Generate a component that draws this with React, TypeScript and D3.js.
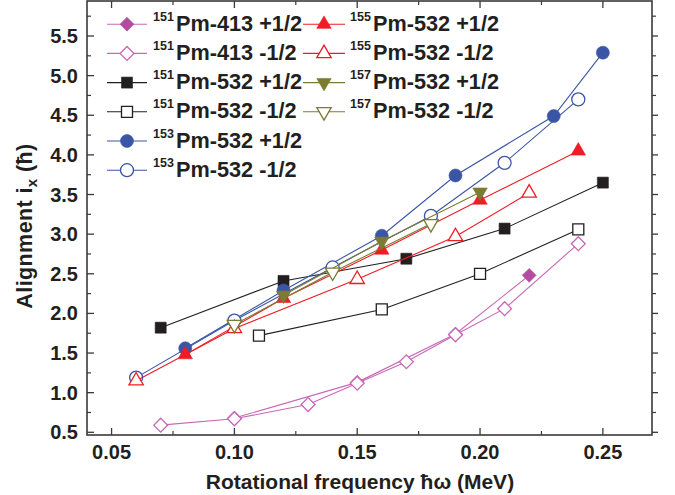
import React from "react";
import * as d3 from "d3";

// ---- Data ----
const pm151_413_pos_x = [0.10, 0.15, 0.19, 0.22];
const pm151_413_pos_y = [0.68, 1.13, 1.74, 2.48];
const pm151_413_neg_x = [0.07, 0.10, 0.13, 0.15, 0.17, 0.19, 0.21, 0.24];
const pm151_413_neg_y = [0.59, 0.67, 0.85, 1.12, 1.39, 1.73, 2.06, 2.88];
const pm151_532_pos_x = [0.07, 0.12, 0.17, 0.21, 0.25];
const pm151_532_pos_y = [1.82, 2.41, 2.69, 3.07, 3.65];
const pm151_532_neg_x = [0.11, 0.16, 0.20, 0.24];
const pm151_532_neg_y = [1.72, 2.05, 2.50, 3.06];
const pm153_532_pos_x = [0.08, 0.12, 0.16, 0.19, 0.23, 0.25];
const pm153_532_pos_y = [1.56, 2.29, 2.98, 3.74, 4.49, 5.29];
const pm153_532_neg_x = [0.06, 0.10, 0.14, 0.18, 0.21, 0.24];
const pm153_532_neg_y = [1.19, 1.91, 2.58, 3.23, 3.90, 4.70];
const pm155_532_pos_x = [0.08, 0.12, 0.16, 0.20, 0.24];
const pm155_532_pos_y = [1.48, 2.19, 2.80, 3.43, 4.05];
const pm155_532_neg_x = [0.06, 0.10, 0.15, 0.19, 0.22];
const pm155_532_neg_y = [1.15, 1.81, 2.43, 2.97, 3.52];
const pm157_532_pos_x = [0.12, 0.16, 0.20];
const pm157_532_pos_y = [2.23, 2.91, 3.53];
const pm157_532_neg_x = [0.10, 0.14, 0.18];
const pm157_532_neg_y = [1.86, 2.52, 3.13];

const xTickValues = [0.05, 0.10, 0.15, 0.20, 0.25];
const xTickLabels = ["0.05", "0.10", "0.15", "0.20", "0.25"];
const xMinorValues = [0.075, 0.125, 0.175, 0.225];
const yTickValues = [0.5, 1.0, 1.5, 2.0, 2.5, 3.0, 3.5, 4.0, 4.5, 5.0, 5.5];
const yTickLabels = ["0.5", "1.0", "1.5", "2.0", "2.5", "3.0", "3.5", "4.0", "4.5", "5.0", "5.5"];
const yMinorValues = [0.75, 1.25, 1.75, 2.25, 2.75, 3.25, 3.75, 4.25, 4.75, 5.25, 5.75];

type Shape = "diamond" | "square" | "circle" | "up" | "down";
interface Series {
  sup: string;
  label: string;
  xs: number[];
  ys: number[];
  shape: Shape;
  filled: boolean;
  color: string;
  line: string;
}

const MAGENTA = "#b24c9f";
const PINK_LINE = "#c868b6";
const BLACK = "#231f20";
const BLUE = "#3a55a5";
const RED = "#ee1c25";
const OLIVE = "#7b7b32";

const series: Series[] = [
  { sup: "151", label: "Pm-413 +1/2", xs: pm151_413_pos_x, ys: pm151_413_pos_y, shape: "diamond", filled: true, color: MAGENTA, line: PINK_LINE },
  { sup: "151", label: "Pm-413 -1/2", xs: pm151_413_neg_x, ys: pm151_413_neg_y, shape: "diamond", filled: false, color: PINK_LINE, line: PINK_LINE },
  { sup: "151", label: "Pm-532 +1/2", xs: pm151_532_pos_x, ys: pm151_532_pos_y, shape: "square", filled: true, color: BLACK, line: BLACK },
  { sup: "151", label: "Pm-532 -1/2", xs: pm151_532_neg_x, ys: pm151_532_neg_y, shape: "square", filled: false, color: BLACK, line: BLACK },
  { sup: "153", label: "Pm-532 +1/2", xs: pm153_532_pos_x, ys: pm153_532_pos_y, shape: "circle", filled: true, color: BLUE, line: BLUE },
  { sup: "153", label: "Pm-532 -1/2", xs: pm153_532_neg_x, ys: pm153_532_neg_y, shape: "circle", filled: false, color: BLUE, line: BLUE },
  { sup: "155", label: "Pm-532 +1/2", xs: pm155_532_pos_x, ys: pm155_532_pos_y, shape: "up", filled: true, color: RED, line: RED },
  { sup: "155", label: "Pm-532 -1/2", xs: pm155_532_neg_x, ys: pm155_532_neg_y, shape: "up", filled: false, color: RED, line: RED },
  { sup: "157", label: "Pm-532 +1/2", xs: pm157_532_pos_x, ys: pm157_532_pos_y, shape: "down", filled: true, color: OLIVE, line: OLIVE },
  { sup: "157", label: "Pm-532 -1/2", xs: pm157_532_neg_x, ys: pm157_532_neg_y, shape: "down", filled: false, color: OLIVE, line: OLIVE },
];

const FONT = "'Liberation Sans', Arial, Helvetica, sans-serif";
const AXIS = "#3a3a3a";

// Plot frame
const L = 87, R = 652, T = 1, B = 435;
const x = d3.scaleLinear().domain([0.04, 0.27]).range([L, R]);
const y = d3.scaleLinear().domain([0.5, 5.5]).range([432.3, 36]);

function symbolPath(shape: Shape): { d: string; rot: number } {
  switch (shape) {
    case "diamond":
      return { d: d3.symbol(d3.symbolSquare, 96)()!, rot: 45 };
    case "square":
      return { d: d3.symbol(d3.symbolSquare, 121)()!, rot: 0 };
    case "circle":
      return { d: d3.symbol(d3.symbolCircle, 133)()!, rot: 0 };
    case "up":
      return { d: d3.symbol(d3.symbolTriangle, 90)()!, rot: 0 };
    case "down":
      return { d: d3.symbol(d3.symbolTriangle, 90)()!, rot: 180 };
  }
}

function Marker({ s, cx, cy }: { s: Series; cx: number; cy: number }) {
  const { d, rot } = symbolPath(s.shape);
  return (
    <path
      d={d}
      transform={`translate(${cx},${cy}) rotate(${rot})`}
      fill={s.filled ? s.color : "#ffffff"}
      stroke={s.color}
      strokeWidth={s.filled ? 0.6 : 1.3}
    />
  );
}

export default function App() {
  const line = d3
    .line<[number, number]>()
    .x((d) => x(d[0]))
    .y((d) => y(d[1]));

  const legendRows = [30.7, 59.9, 89.1, 118.3, 147.5, 176.7];
  const legendCols = [
    { lx0: 107, lx1: 147, mx: 127, sx: 153, tx: 176 },
    { lx0: 303, lx1: 345, mx: 324, sx: 350, tx: 373 },
  ];
  const legendItems = series.map((s, i) => {
    const col = i < 6 ? 0 : 1;
    const row = i < 6 ? i : i - 6;
    return { s, col: legendCols[col], base: legendRows[row] };
  });

  return (
    <svg
      width={675}
      height={495}
      style={{ position: "absolute", left: 0, top: 0, background: "#fff" }}
      fontFamily={FONT}
    >
      <rect x={0} y={0} width={675} height={495} fill="#ffffff" />

      {/* series */}
      {series.map((s, i) => {
        const pts = s.xs.map((v, j) => [v, s.ys[j]] as [number, number]);
        return (
          <g key={i}>
            <path d={line(pts)!} fill="none" stroke={s.line} strokeWidth={1.1} />
            {pts.map((p, j) => (
              <Marker key={j} s={s} cx={x(p[0])} cy={y(p[1])} />
            ))}
          </g>
        );
      })}

      {/* frame */}
      <rect x={L} y={T} width={R - L} height={B - T} fill="none" stroke={AXIS} strokeWidth={1.6} />

      {/* x ticks */}
      {xTickValues.map((v, i) => (
        <g key={"xt" + i}>
          <line x1={x(v)} x2={x(v)} y1={B} y2={B - 7} stroke={AXIS} strokeWidth={1.3} />
          <line x1={x(v)} x2={x(v)} y1={T} y2={T + 7} stroke={AXIS} strokeWidth={1.3} />
          <text x={x(v)} y={459} textAnchor="middle" fontSize={20} fontWeight="bold" fill="#231f20">
            {xTickLabels[i]}
          </text>
        </g>
      ))}
      {xMinorValues.map((v, i) => (
        <g key={"xm" + i}>
          <line x1={x(v)} x2={x(v)} y1={B} y2={B - 4} stroke={AXIS} strokeWidth={1.2} />
          <line x1={x(v)} x2={x(v)} y1={T} y2={T + 4} stroke={AXIS} strokeWidth={1.2} />
        </g>
      ))}

      {/* y ticks */}
      {yTickValues.map((v, i) => (
        <g key={"yt" + i}>
          <line x1={L} x2={L + 7} y1={y(v)} y2={y(v)} stroke={AXIS} strokeWidth={1.3} />
          <line x1={R} x2={R + 6} y1={y(v)} y2={y(v)} stroke={AXIS} strokeWidth={1.3} />
          <text x={78} y={y(v) + 7} textAnchor="end" fontSize={20} fontWeight="bold" fill="#231f20">
            {yTickLabels[i]}
          </text>
        </g>
      ))}
      {yMinorValues.map((v, i) => (
        <g key={"ym" + i}>
          <line x1={L} x2={L + 4} y1={y(v)} y2={y(v)} stroke={AXIS} strokeWidth={1.2} />
          <line x1={R} x2={R + 4} y1={y(v)} y2={y(v)} stroke={AXIS} strokeWidth={1.2} />
        </g>
      ))}

      {/* axis titles */}
      <text x={360} y={489} textAnchor="middle" fontSize={21} fontWeight="bold" fill="#231f20">
        Rotational frequency ħω (MeV)
      </text>
      <text
        transform={`translate(32, ${226}) rotate(-90)`}
        textAnchor="middle"
        fontSize={21.5}
        fontWeight="bold"
        letterSpacing={0.4}
        fill="#231f20"
      >
        Alignment i
        <tspan fontSize={15} dy={5}>x</tspan>
        <tspan dy={-5}> (ħ)</tspan>
      </text>

      {/* legend */}
      {legendItems.map(({ s, col, base }, i) => (
        <g key={"lg" + i}>
          <line x1={col.lx0} x2={col.lx1} y1={base - 6.5} y2={base - 6.5} stroke={s.line} strokeWidth={1.1} />
          <Marker s={s} cx={col.mx} cy={base - 6.5} />
          <text x={col.sx} y={base - 10} fontSize={12.5} fontWeight="bold" fill="#231f20">
            {s.sup}
          </text>
          <text x={col.tx} y={base} fontSize={21.7} fontWeight="bold" fill="#231f20">
            {s.label}
          </text>
        </g>
      ))}
    </svg>
  );
}
